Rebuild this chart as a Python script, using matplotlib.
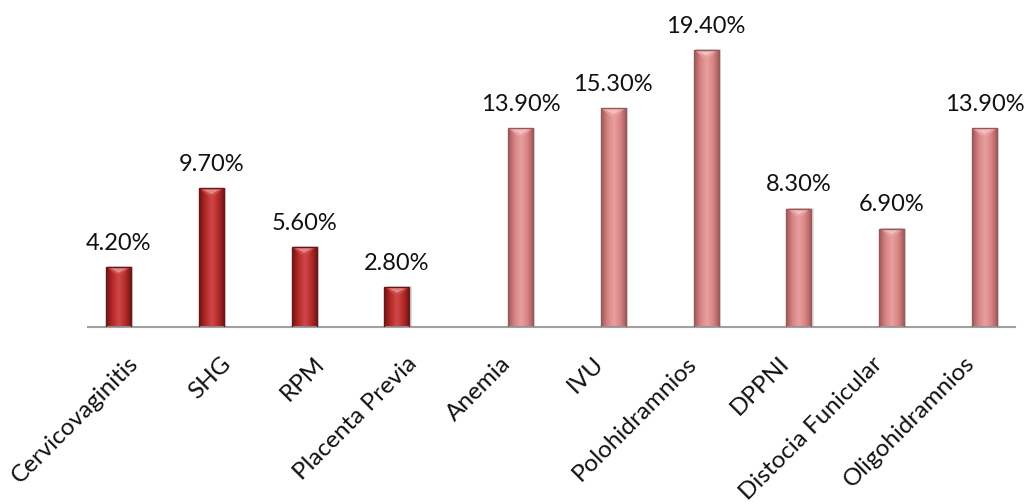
import numpy as np
import matplotlib.pyplot as plt
from matplotlib.patches import Rectangle, Polygon
from matplotlib.colors import LinearSegmentedColormap

plt.rcParams['font.family'] = ['Lato', 'DejaVu Sans']

categories = ['Cervicovaginitis', 'SHG', 'RPM', 'Placenta Previa', 'Anemia',
              'IVU', 'Polohidramnios', 'DPPNI', 'Distocia Funicular', 'Oligohidramnios']
values = [4.2, 9.7, 5.6, 2.8, 13.9, 15.3, 19.4, 8.3, 6.9, 13.9]
group = [0, 0, 0, 0, 1, 1, 1, 1, 1, 1]

# two colour families: edge / mid / highlight
dark = ['#6e1414', '#b42a2a', '#d04848']
light = ['#9a5858', '#d98484', '#e8a0a0']

# second group sits a little further right
xpos = np.arange(len(values)) + np.array(group) / 3
width = 0.27

fig = plt.figure(figsize=(10.28, 5.04), dpi=100)
ax = fig.add_axes([0.0856, 0.351, 0.9014, 0.567])
ax.set_xlim(-0.33, 9.66)
ax.set_ylim(0, 20)

grad = np.linspace(0, 1, 64)
grad = np.vstack([grad, grad])

for x, v, g in zip(xpos, values, group):
    c = dark if g == 0 else light
    cmap = LinearSegmentedColormap.from_list('bar', [c[0], c[1], c[2], c[1], c[0]])
    left = x - width / 2
    # soft shadow
    ax.add_patch(Rectangle((left + 0.025, 0), width, v + 0.05, facecolor='#000000',
                           alpha=0.12, edgecolor='none', zorder=1))
    rect = Rectangle((left, 0), width, v, facecolor='none', edgecolor=c[0],
                     linewidth=1.0, zorder=3)
    ax.add_patch(rect)
    im = ax.imshow(grad, cmap=cmap, extent=(left, left + width, 0, v),
                   aspect='auto', zorder=2, interpolation='bicubic')
    im.set_clip_path(rect)
    # bevel on top of the bar
    bev = 0.55
    ax.add_patch(Polygon([(left + 0.01, v), (left + width - 0.01, v),
                          (x + 0.03, v - bev), (x - 0.03, v - bev)],
                         closed=True, facecolor=c[2], edgecolor='none',
                         alpha=0.9, zorder=2.5))
    ax.add_patch(Polygon([(left + 0.04, v - 0.05), (left + width - 0.04, v - 0.05),
                          (x, v - bev * 0.75)],
                         closed=True, facecolor='white', edgecolor='none',
                         alpha=0.35, zorder=2.6))
    ax.annotate(f'{v:.2f}%', (x, v), xytext=(0, 9.5), textcoords='offset points',
                ha='center', va='bottom', fontsize=17, color='#111111')

for x, name, g in zip(xpos, categories, group):
    shift = 0.1 if g == 0 else -0.22
    ax.text(x + shift, -1.8, name, rotation=45, rotation_mode='anchor',
            ha='right', va='top', fontsize=17.5, color='#111111')

for s in ['top', 'right', 'left']:
    ax.spines[s].set_visible(False)
ax.spines['bottom'].set_color('#a0a0a0')
ax.spines['bottom'].set_linewidth(1.5)
ax.set_xticks([])
ax.set_yticks([])

fig.savefig('out.png', dpi=100)
